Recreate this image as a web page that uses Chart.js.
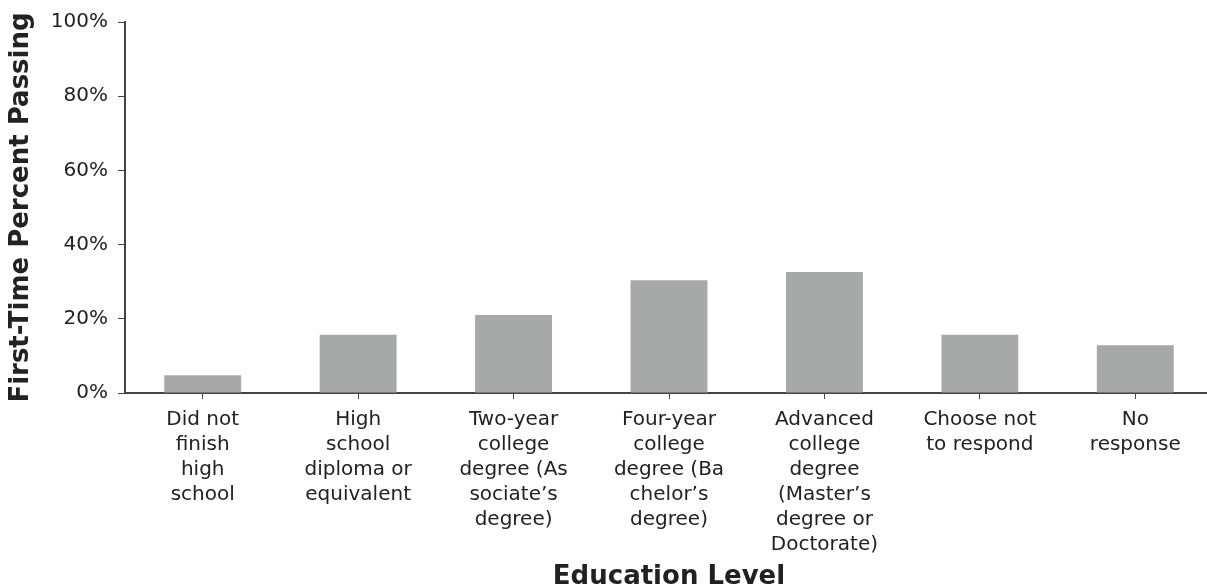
<!DOCTYPE html>
<html>
<head>
<meta charset="utf-8">
<script src="https://cdn.jsdelivr.net/npm/chart.js@4"></script>
<style>
  html, body { margin: 0; padding: 0; background: #fff; overflow: hidden; }
  #wrap { width: 1215px; height: 588px; }
</style>
</head>
<body>
<div id="wrap"><canvas id="chart"></canvas></div>
<script>
const categories = [
  ["Did not", "finish", "high", "school"],
  ["High", "school", "diploma or", "equivalent"],
  ["Two-year", "college", "degree (As", "sociate’s", "degree)"],
  ["Four-year", "college", "degree (Ba", "chelor’s", "degree)"],
  ["Advanced", "college", "degree", "(Master’s", "degree or", "Doctorate)"],
  ["Choose not", "to respond"],
  ["No", "response"],
];
const passRates = [4.8, 15.7, 21, 30.4, 32.6, 15.7, 12.9];
const yTicks = [0, 20, 40, 60, 80, 100];

const textColor = "#222";
const axisColor = "#444";
const font = "'DejaVu Sans', Verdana, sans-serif";

const ctx = document.getElementById("chart").getContext("2d");
new Chart(ctx, {
  type: "bar",
  data: {
    labels: categories,
    datasets: [
      {
        label: "First-Time Percent Passing",
        data: passRates,
        backgroundColor: "#a7a9a9",
        borderWidth: 0,
        categoryPercentage: 1,
        barPercentage: 0.495,
      },
    ],
  },
  options: {
    responsive: true,
    maintainAspectRatio: false,
    animation: false,
    layout: { padding: { top: 20, right: 2, left: 0, bottom: 0 } },
    plugins: {
      legend: { display: false },
      tooltip: { enabled: false },
    },
    scales: {
      x: {
        grid: {
          drawOnChartArea: false,
          drawTicks: true,
          tickLength: 6,
          color: axisColor,
          offset: false,
        },
        border: { color: axisColor, width: 2 },
        ticks: {
          color: textColor,
          font: { family: font, size: 20, lineHeight: 1.25 },
          padding: 8,
          maxRotation: 0,
          autoSkip: false,
        },
        title: {
          display: true,
          text: "Education Level",
          color: textColor,
          font: { family: font, size: 26, weight: "bold", lineHeight: 0.8 },
          padding: { top: 0, bottom: 0 },
        },
        afterFit: (scale) => {
          scale.height = 195;
        },
      },
      y: {
        min: 0,
        max: 100,
        afterBuildTicks: (scale) => {
          scale.ticks = yTicks.map((v) => ({ value: v }));
        },
        grid: {
          drawOnChartArea: false,
          drawTicks: true,
          tickLength: 7,
          color: axisColor,
        },
        border: { color: axisColor, width: 2 },
        ticks: {
          color: textColor,
          font: { family: font, size: 20 },
          padding: 10,
          callback: (v) => v + "%",
        },
        title: {
          display: true,
          text: "First-Time Percent Passing",
          color: textColor,
          font: { family: font, size: 26, weight: "bold", lineHeight: 1.1 },
          padding: { top: 7, bottom: 4 },
        },
        afterFit: (scale) => {
          scale.width = 125;
        },
      },
    },
  },
});
</script>
</body>
</html>
